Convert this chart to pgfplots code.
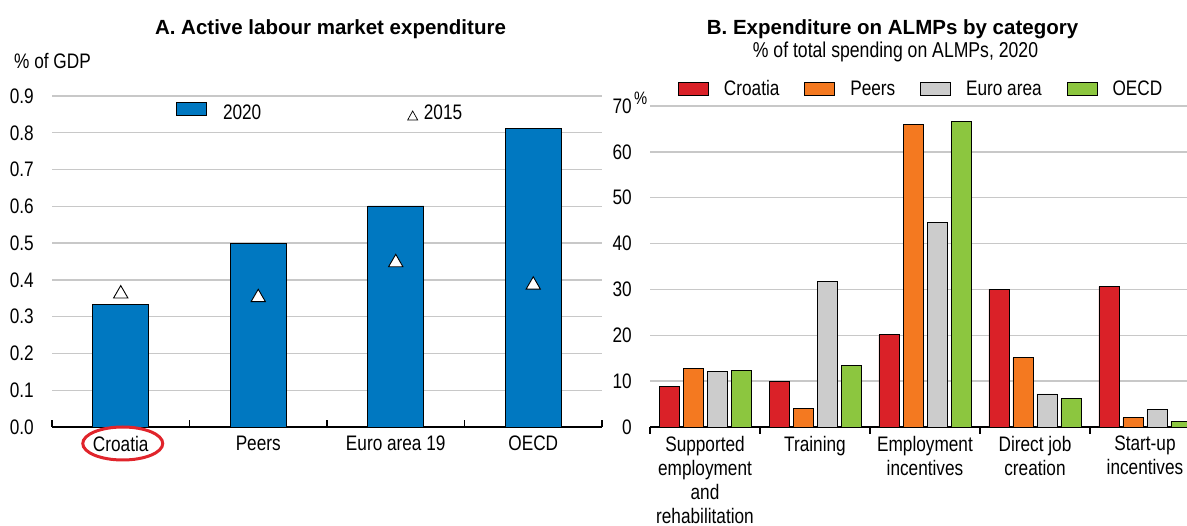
\documentclass[border=0pt]{standalone}
\usepackage{pgfplots}
\pgfplotsset{compat=1.18}
\usepackage{fontspec}
\setmainfont[FakeStretch=0.82]{Liberation Sans}
\newfontfamily\titlefont{Liberation Sans}
\definecolor{oblue}{HTML}{0078C1}
\definecolor{cred}{HTML}{DA2128}
\definecolor{corange}{HTML}{F47920}
\definecolor{cgrey}{HTML}{CCCCCC}
\definecolor{cgreen}{HTML}{8CC63F}
\definecolor{gridc}{HTML}{C8C8C8}
\definecolor{ellred}{HTML}{E0242B}
\newcommand{\lf}{\fontsize{21bp}{24bp}\selectfont}
\pgfplotsset{
  oecd/.style={
    scale only axis,
    axis x line=bottom, axis y line=left,
    axis line style={-, line width=1.3bp, black},
    y axis line style={draw=none},
    ytick style={draw=none},
    ymajorgrids, grid style={gridc, line width=1.4bp},
    tick align=inside,
    x tick style={black, line width=1.3bp},
    major tick length=7bp,
    xticklabels={},
    tick label style={font=\lf},
    /pgf/number format/assume math mode=true,
    yticklabel style={inner sep=0pt, xshift=-18bp},
    extra x tick style={major tick length=0pt, grid=none,
      xticklabel style={anchor=north, inner sep=0pt, yshift=-9bp, align=center}},
    legend cell align=left,
    legend style={draw=none, fill=none, inner sep=0pt, font=\lf, nodes={inner sep=0pt}},
  }
}
\begin{document}
\begin{tikzpicture}
% ---------------- Panel A ----------------
\begin{axis}[oecd, at={(52bp,99bp)}, anchor=south west,
  width=550bp, height=331bp,
  xmin=-0.5, xmax=3.5, ymin=0, ymax=0.9,
  xtick={-0.5,0.5,1.5,2.5,3.5},
  ytick={0,0.1,0.2,0.3,0.4,0.5,0.6,0.7,0.8,0.9},
  yticklabel style={/pgf/number format/.cd, fixed, fixed zerofill, precision=1},
  extra x ticks={0,1,2,3},
  extra x tick labels={Croatia,Peers,Euro area 19,OECD},
  clip=false,
  legend columns=2,
  legend style={at={(rel axis cs:0.2255,0.953)}, anchor=west,
    /tikz/every even column/.append style={column sep=146bp}},
]
\addplot[ybar, bar width=56bp, bar shift=0bp, fill=oblue, draw=black, line width=0.8bp,
  legend image code/.code={\draw[fill=oblue, draw=black, line width=0.8bp] (0bp,-2.5bp) rectangle (30bp,10.5bp); \path (46bp,0bp);}]
  coordinates {(0,0.333) (1,0.500) (2,0.601) (3,0.812)};
\addlegendentry{2020}
\addplot[only marks, mark=triangle*, mark size=8.3bp,
  mark options={fill=white, draw=black, line width=0.9bp},
  legend image code/.code={\draw[fill=white, draw=black, line width=0.7bp] (0bp,-7bp) -- (10bp,-7bp) -- (5bp,2bp) -- cycle; \path (16bp,0bp);}]
  coordinates {(0,0.362) (1,0.352) (2,0.447) (3,0.386)};
\addlegendentry{2015}
\draw[ellred, line width=3bp] (axis cs:0,0) ++(2bp,-16.5bp) ellipse [x radius=40bp, y radius=16.5bp];
\end{axis}
% ---------------- Panel B ----------------
\begin{axis}[oecd, at={(650bp,99bp)}, anchor=south west,
  width=537bp, height=321bp,
  xmin=-0.5, xmax=4.382, ymin=0, ymax=70,
  xtick={-0.5,0.5,1.5,2.5,3.5},
  ytick={0,10,20,30,40,50,60,70},
  extra x ticks={0,1,2,3,4},
  extra x tick labels={{Supported\\employment\\and\\rehabilitation},Training,{Employment\\incentives},{Direct job\\creation},{Start-up\\incentives}},
  ybar=4bp, bar width=20bp,
  legend columns=4,
  legend style={at={(rel axis cs:0.0521,1.053)}, anchor=west,
    /tikz/every even column/.append style={column sep=25bp}},
]
\addplot[fill=cred, draw=black, line width=0.8bp,
  legend image code/.code={\draw[fill=cred, draw=black, line width=0.8bp] (0bp,-6.5bp) rectangle (30bp,6.5bp); \path (45bp,0bp);}]
  coordinates {(0,8.9) (1,9.9) (2,20.1) (3,30.0) (4,30.6)};
\addlegendentry{Croatia}
\addplot[fill=corange, draw=black, line width=0.8bp,
  legend image code/.code={\draw[fill=corange, draw=black, line width=0.8bp] (0bp,-6.5bp) rectangle (30bp,6.5bp); \path (45bp,0bp);}]
  coordinates {(0,12.7) (1,4.0) (2,66.0) (3,15.1) (4,2.0)};
\addlegendentry{Peers}
\addplot[fill=cgrey, draw=black, line width=0.8bp,
  legend image code/.code={\draw[fill=cgrey, draw=black, line width=0.8bp] (0bp,-6.5bp) rectangle (30bp,6.5bp); \path (45bp,0bp);}]
  coordinates {(0,12.1) (1,31.8) (2,44.7) (3,7.2) (4,3.8)};
\addlegendentry{Euro area}
\addplot[fill=cgreen, draw=black, line width=0.8bp,
  legend image code/.code={\draw[fill=cgreen, draw=black, line width=0.8bp] (0bp,-6.5bp) rectangle (30bp,6.5bp); \path (45bp,0bp);}]
  coordinates {(0,12.3) (1,13.4) (2,66.6) (3,6.2) (4,1.2)};
\addlegendentry{OECD}
\end{axis}
% ---------------- Titles and labels ----------------
\node[anchor=base, inner sep=0pt, font=\titlefont\bfseries\fontsize{20.5bp}{24bp}\selectfont] at (330.5bp,491.5bp) {A. Active labour market expenditure};
\node[anchor=base, inner sep=0pt, font=\titlefont\bfseries\fontsize{20.5bp}{24bp}\selectfont] at (892.5bp,491.5bp) {B. Expenditure on ALMPs by category};
\node[anchor=base, inner sep=0pt, font=\fontsize{21.5bp}{24bp}\selectfont] at (895.5bp,468bp) {\% of total spending on ALMPs, 2020};
\node[anchor=base west, inner sep=0pt, font=\lf] at (14bp,457bp) {\% of GDP};
\node[anchor=base west, inner sep=0pt, font=\fontsize{18bp}{20bp}\selectfont] at (634bp,421bp) {\%};
\pgfresetboundingbox
\path[use as bounding box] (0bp,0bp) rectangle (1187bp,526bp);
\end{tikzpicture}
\end{document}
